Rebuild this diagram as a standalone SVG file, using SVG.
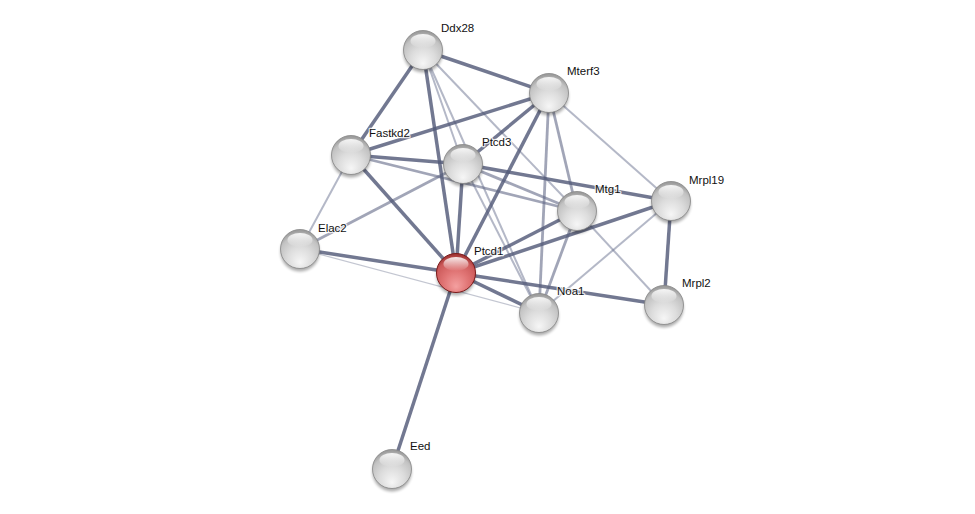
<svg xmlns="http://www.w3.org/2000/svg" width="975" height="514" viewBox="0 0 975 514">
<defs>
<radialGradient id="gw" cx="0.5" cy="0.68" r="0.64" fx="0.5" fy="0.85">
<stop offset="0" stop-color="#f6f6f6"/>
<stop offset="0.5" stop-color="#dcdcdc"/>
<stop offset="0.85" stop-color="#c2c2c2"/>
<stop offset="1" stop-color="#9d9d9d"/>
</radialGradient>
<radialGradient id="gr" cx="0.5" cy="0.68" r="0.64" fx="0.5" fy="0.85">
<stop offset="0" stop-color="#f4a0a0"/>
<stop offset="0.5" stop-color="#e07474"/>
<stop offset="0.85" stop-color="#cc5a5a"/>
<stop offset="1" stop-color="#a53838"/>
</radialGradient>
<linearGradient id="hl" x1="0" y1="0" x2="0" y2="1">
<stop offset="0" stop-color="#fff" stop-opacity="0.9"/>
<stop offset="1" stop-color="#fff" stop-opacity="0"/>
</linearGradient>
<filter id="blur" x="-50%" y="-50%" width="200%" height="200%"><feGaussianBlur stdDeviation="1.6"/></filter>
</defs>
<style>
.e1{stroke:#535a79;stroke-width:3.5;stroke-opacity:0.82;fill:none}
.e2{stroke:#5d6483;stroke-width:2.8;stroke-opacity:0.58;fill:none}
.e3{stroke:#6a7190;stroke-width:2;stroke-opacity:0.5;fill:none}
.e4{stroke:#7a8098;stroke-width:1.2;stroke-opacity:0.45;fill:none}
.sh{fill:#000;opacity:0.32;filter:url(#blur)}
.bw{fill:url(#gw);stroke:#858585;stroke-width:0.8}
.br{fill:url(#gr);stroke:#7a1a1a;stroke-width:1}
.hl{fill:url(#hl)}
text{font-family:"Liberation Sans",Arial,sans-serif;font-size:11.5px;fill:#111;stroke:#fff;stroke-width:2.5;stroke-opacity:0.8;paint-order:stroke;stroke-linejoin:round}
</style>
<rect width="975" height="514" fill="#fff"/>
<g id="edges">
<line class="e4" x1="300" y1="249" x2="539" y2="313"/>
<line class="e3" x1="423" y1="50" x2="463" y2="164"/>
<line class="e3" x1="423" y1="50" x2="539" y2="313"/>
<line class="e3" x1="423" y1="50" x2="577" y2="211"/>
<line class="e3" x1="549" y1="93" x2="671" y2="201"/>
<line class="e3" x1="351" y1="155" x2="300" y2="249"/>
<line class="e3" x1="463" y1="164" x2="539" y2="313"/>
<line class="e3" x1="577" y1="211" x2="664" y2="305"/>
<line class="e3" x1="671" y1="201" x2="539" y2="313"/>
<line class="e2" x1="549" y1="93" x2="539" y2="313"/>
<line class="e2" x1="549" y1="93" x2="577" y2="211"/>
<line class="e2" x1="351" y1="155" x2="577" y2="211"/>
<line class="e2" x1="463" y1="164" x2="577" y2="211"/>
<line class="e2" x1="577" y1="211" x2="539" y2="313"/>
<line class="e2" x1="463" y1="164" x2="300" y2="249"/>
<line class="e1" x1="423" y1="50" x2="549" y2="93"/>
<line class="e1" x1="423" y1="50" x2="351" y2="155"/>
<line class="e1" x1="423" y1="50" x2="456" y2="273"/>
<line class="e1" x1="549" y1="93" x2="351" y2="155"/>
<line class="e1" x1="549" y1="93" x2="463" y2="164"/>
<line class="e1" x1="549" y1="93" x2="456" y2="273"/>
<line class="e1" x1="351" y1="155" x2="463" y2="164"/>
<line class="e1" x1="351" y1="155" x2="456" y2="273"/>
<line class="e1" x1="463" y1="164" x2="456" y2="273"/>
<line class="e1" x1="463" y1="164" x2="671" y2="201"/>
<line class="e1" x1="456" y1="273" x2="300" y2="249"/>
<line class="e1" x1="456" y1="273" x2="577" y2="211"/>
<line class="e1" x1="456" y1="273" x2="671" y2="201"/>
<line class="e1" x1="456" y1="273" x2="539" y2="313"/>
<line class="e1" x1="456" y1="273" x2="664" y2="305"/>
<line class="e1" x1="456" y1="273" x2="392" y2="469"/>
<line class="e1" x1="671" y1="201" x2="664" y2="305"/>
</g>
<g id="Ddx28"><circle class="sh" cx="423" cy="53" r="19.5"/><circle class="bw" cx="423" cy="50" r="19.5"/><ellipse class="hl" cx="423" cy="41" rx="12.5" ry="7"/><text x="441" y="32">Ddx28</text></g>
<g id="Mterf3"><circle class="sh" cx="549" cy="96" r="19.5"/><circle class="bw" cx="549" cy="93" r="19.5"/><ellipse class="hl" cx="549" cy="84" rx="12.5" ry="7"/><text x="567" y="75">Mterf3</text></g>
<g id="Fastkd2"><circle class="sh" cx="351" cy="158" r="19.5"/><circle class="bw" cx="351" cy="155" r="19.5"/><ellipse class="hl" cx="351" cy="146" rx="12.5" ry="7"/><text x="369" y="137">Fastkd2</text></g>
<g id="Ptcd3"><circle class="sh" cx="463" cy="167" r="19.5"/><circle class="bw" cx="463" cy="164" r="19.5"/><ellipse class="hl" cx="463" cy="155" rx="12.5" ry="7"/><text x="482" y="146">Ptcd3</text></g>
<g id="Mtg1"><circle class="sh" cx="577" cy="214" r="19.5"/><circle class="bw" cx="577" cy="211" r="19.5"/><ellipse class="hl" cx="577" cy="202" rx="12.5" ry="7"/><text x="595" y="193">Mtg1</text></g>
<g id="Mrpl19"><circle class="sh" cx="671" cy="204" r="19.5"/><circle class="bw" cx="671" cy="201" r="19.5"/><ellipse class="hl" cx="671" cy="192" rx="12.5" ry="7"/><text x="689" y="184">Mrpl19</text></g>
<g id="Elac2"><circle class="sh" cx="300" cy="252" r="19.5"/><circle class="bw" cx="300" cy="249" r="19.5"/><ellipse class="hl" cx="300" cy="240" rx="12.5" ry="7"/><text x="318" y="232">Elac2</text></g>
<g id="Ptcd1"><circle class="sh" cx="456" cy="276" r="19.5"/><circle class="br" cx="456" cy="273" r="19.5"/><ellipse class="hl" cx="456" cy="264" rx="12.5" ry="7"/><text x="474" y="255">Ptcd1</text></g>
<g id="Noa1"><circle class="sh" cx="539" cy="316" r="19.5"/><circle class="bw" cx="539" cy="313" r="19.5"/><ellipse class="hl" cx="539" cy="304" rx="12.5" ry="7"/><text x="557" y="295">Noa1</text></g>
<g id="Mrpl2"><circle class="sh" cx="664" cy="308" r="19.5"/><circle class="bw" cx="664" cy="305" r="19.5"/><ellipse class="hl" cx="664" cy="296" rx="12.5" ry="7"/><text x="682" y="287">Mrpl2</text></g>
<g id="Eed"><circle class="sh" cx="392" cy="472" r="19.5"/><circle class="bw" cx="392" cy="469" r="19.5"/><ellipse class="hl" cx="392" cy="460" rx="12.5" ry="7"/><text x="410" y="450">Eed</text></g>
</svg>
